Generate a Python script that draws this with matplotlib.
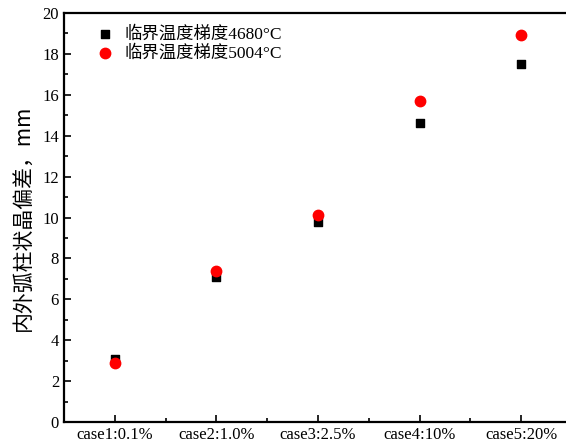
import matplotlib

matplotlib.use("Agg")

import matplotlib.pyplot as plt
from matplotlib.ticker import MultipleLocator

plt.rcParams["font.family"] = ["Liberation Serif", "Noto Sans CJK SC"]

cases = ["case1:0.1%", "case2:1.0%", "case3:2.5%", "case4:10%", "case5:20%"]
dev_4680 = [3.1, 7.1, 9.8, 14.6, 17.5]
dev_5004 = [2.9, 7.4, 10.1, 15.7, 18.9]
labels = ["临界温度梯度4680°C", "临界温度梯度5004°C"]

x = list(range(1, len(cases) + 1))

fig = plt.figure(figsize=(5.66, 4.48), dpi=100)
ax = fig.add_axes([0.113, 0.058, 0.8975, 0.913])

ax.scatter(x, dev_4680, marker="s", s=40, color="black", label=labels[0], zorder=3)
ax.scatter(x, dev_5004, marker="o", s=56, color="red", label=labels[1], zorder=3)

ax.set_xlim(0.5, 5.5)
ax.set_ylim(0, 20)
ax.set_xticks(x)
ax.set_xticklabels(cases)
ax.xaxis.set_minor_locator(MultipleLocator(0.5))
ax.yaxis.set_major_locator(MultipleLocator(2))
ax.yaxis.set_minor_locator(MultipleLocator(1))
ax.tick_params(which="both", direction="in", labelsize=12, width=1.2)
ax.tick_params(which="major", length=5)
ax.tick_params(which="minor", length=3)
for sp in ax.spines.values():
    sp.set_linewidth(1.6)

ax.set_ylabel("内外弧柱状晶偏差，mm", family="Noto Sans CJK SC", fontsize=15, labelpad=6)

ax.legend(
    loc="upper left",
    bbox_to_anchor=(0.022, 0.997),
    frameon=False,
    fontsize=12.5,
    handletextpad=0.15,
    labelspacing=0.15,
    borderaxespad=0.3,
    borderpad=0.4,
)

fig.savefig("out.png", dpi=100, facecolor="white")
plt.close(fig)
